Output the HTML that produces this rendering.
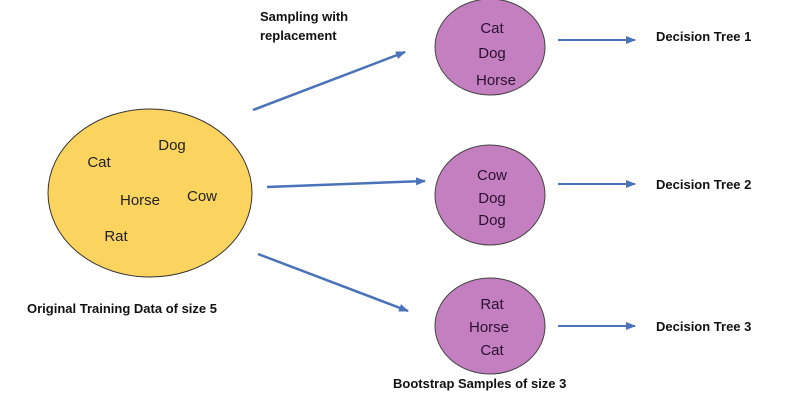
<!DOCTYPE html>
<html><head><style>body{margin:0;background:#fff}svg{display:block}</style></head><body>
<svg width="800" height="400" viewBox="0 0 800 400" xmlns="http://www.w3.org/2000/svg" font-family="Liberation Sans, sans-serif">
<defs><marker id="a" markerWidth="10" markerHeight="8" refX="9" refY="4" orient="auto" markerUnits="userSpaceOnUse"><path d="M0,0 L10,4 L0,8 z" fill="#4a72b8"/></marker></defs>
<ellipse cx="150" cy="193" rx="102" ry="84" fill="#fbd35f" stroke="#333" stroke-width="1"/>
<g font-size="15" fill="#222" text-anchor="middle">
<text x="172" y="150">Dog</text><text x="99" y="167">Cat</text><text x="140" y="205">Horse</text><text x="202" y="201">Cow</text><text x="116" y="241">Rat</text>
</g>
<ellipse cx="490" cy="47" rx="55" ry="48" fill="#c47fc0" stroke="#444"/>
<ellipse cx="490" cy="195" rx="55" ry="50" fill="#c47fc0" stroke="#444"/>
<ellipse cx="490" cy="326" rx="55" ry="48" fill="#c47fc0" stroke="#444"/>
<g font-size="15" fill="#2a1030" text-anchor="middle">
<text x="492" y="33">Cat</text><text x="492" y="58">Dog</text><text x="496" y="85">Horse</text>
<text x="492" y="180">Cow</text><text x="492" y="203">Dog</text><text x="492" y="225">Dog</text>
<text x="492" y="309">Rat</text><text x="489" y="332">Horse</text><text x="492" y="355">Cat</text>
</g>
<g stroke="#4a72b8" stroke-width="2.5" marker-end="url(#a)">
<line x1="253" y1="110" x2="405" y2="52"/>
<line x1="267" y1="187" x2="425" y2="181"/>
<line x1="258" y1="254" x2="408" y2="311"/>
<line x1="558" y1="40" x2="635" y2="40" stroke-width="2"/>
<line x1="558" y1="184" x2="635" y2="184" stroke-width="2"/>
<line x1="558" y1="326" x2="635" y2="326" stroke-width="2"/>
</g>
<g font-size="13" font-weight="bold" fill="#111">
<text x="656" y="41">Decision Tree 1</text>
<text x="656" y="189">Decision Tree 2</text>
<text x="656" y="331">Decision Tree 3</text>
<text x="260" y="21">Sampling with</text>
<text x="260" y="40">replacement</text>
<text x="27" y="313">Original Training Data of size 5</text>
<text x="393" y="388">Bootstrap Samples of size 3</text>
</g>
</svg>
</body></html>
